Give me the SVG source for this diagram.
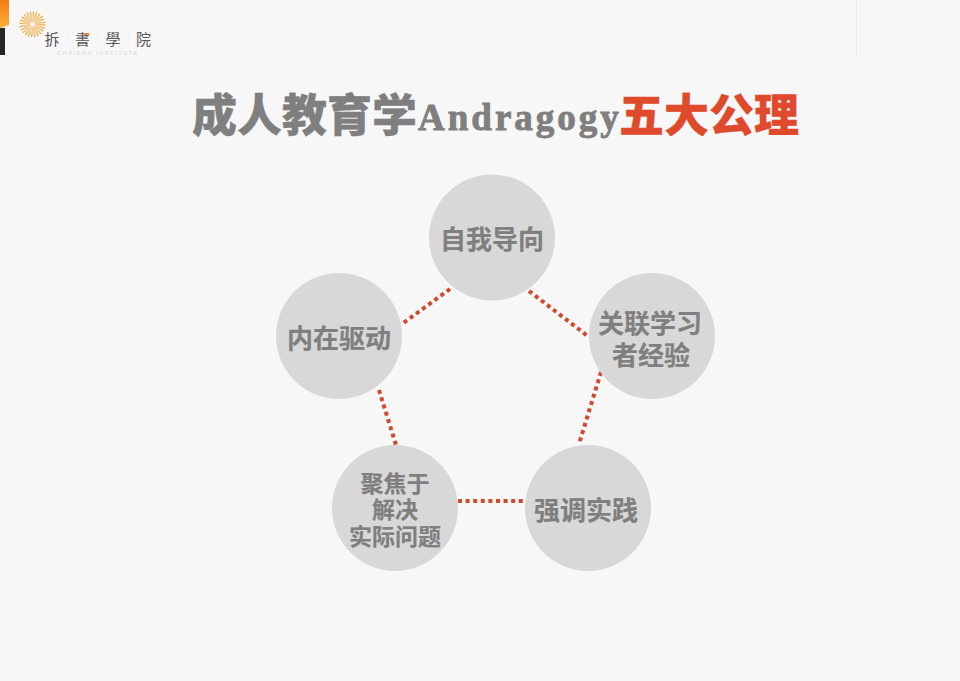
<svg xmlns="http://www.w3.org/2000/svg" width="960" height="681" viewBox="0 0 960 681">
<defs>
<linearGradient id="tab" x1="0" y1="0" x2="0" y2="1"><stop offset="0" stop-color="#f47a16"/><stop offset="1" stop-color="#fbb03b"/></linearGradient>
</defs>
<style>
.n{fill:#d8d8d8}
.t{font-family:"Noto Sans CJK SC","Noto Sans",sans-serif;font-weight:700;fill:#7f7f7f;text-anchor:middle;stroke:#7f7f7f;stroke-width:.2}
.c{stroke:#d2492f;stroke-width:4;stroke-dasharray:4 3.6;fill:none}
.h{font-family:"Noto Sans CJK SC","Noto Sans",sans-serif;font-weight:900;font-size:45px;stroke-width:.3}
.l{font-family:"Noto Sans CJK TC",sans-serif;font-size:15px;fill:#595959;text-anchor:middle}
.r{stroke:#f6b04e;fill:none}
</style>
<rect width="960" height="681" fill="#f7f7f7"/>
<g id="header">
<polygon points="0,0 9,0 9,25 0,28" fill="url(#tab)"/>
<rect x="0" y="28" width="5" height="27" fill="#262626"/>
<rect x="856" y="0" width="1" height="56" fill="#ebebeb"/>
<g id="logo" class="r">
<circle cx="32.500" cy="24.300" r="7.500" stroke-width="11" stroke-dasharray=".9 1.062"/>
<circle cx="32.500" cy="24.300" r="7" stroke-width="7.500" stroke-dasharray=".5 1.333" opacity=".7"/>
</g>
<rect x="67" y="34" width="1" height="14" fill="#f2f2f2"/>
<rect x="97" y="34" width="1" height="14" fill="#f2f2f2"/>
<rect x="128" y="34" width="1" height="14" fill="#f2f2f2"/>
<text class="l" x="52" y="45">拆</text>
<text class="l" x="82.500" y="45">書</text>
<text class="l" x="113" y="45">學</text>
<text class="l" x="143.500" y="45">院</text>
<rect x="84" y="33" width="5" height="2" fill="#f08a3c"/>
<text x="98" y="55" font-family="Liberation Sans,sans-serif" font-size="5.500px" letter-spacing="1.600" fill="#d4d4d4" text-anchor="middle">CHAISHU INSTITUTE</text>
</g>
<g id="title">
<text class="h" x="192" y="132" fill="#7f7f7f" stroke="#7f7f7f">成人教育学</text>
<text x="418" y="130" font-family="Liberation Serif,serif" font-weight="700" font-size="37px" letter-spacing="3" fill="#7f7f7f" stroke="#7f7f7f" stroke-width=".9">Andragogy</text>
<text class="h" x="619" y="132" fill="#e04a2c" stroke="#e04a2c">五大公理</text>
</g>
<g id="connectors">
<path class="c" d="M450 289L402 324"/>
<path class="c" d="M529 291L589 337"/>
<path class="c" d="M601 372L579 444"/>
<path class="c" d="M379 390L396 445"/>
<path class="c" d="M458 501H524"/>
</g>
<g id="node1"><circle class="n" cx="492" cy="237.500" r="63"/><text class="t" x="492" y="249" font-size="26px">自我导向</text></g>
<g id="node2"><circle class="n" cx="652" cy="336" r="63"/><text class="t" x="650" y="333" font-size="26px">关联学习</text><text class="t" x="651" y="365" font-size="26px">者经验</text></g>
<g id="node3"><circle class="n" cx="588" cy="508" r="63"/><text class="t" x="586" y="520" font-size="26px">强调实践</text></g>
<g id="node4"><circle class="n" cx="395" cy="508" r="63"/><text class="t" x="395" y="492" font-size="23px">聚焦于</text><text class="t" x="395" y="518" font-size="23px">解决</text><text class="t" x="395" y="545" font-size="23px">实际问题</text></g>
<g id="node5"><circle class="n" cx="339" cy="336" r="63"/><text class="t" x="339" y="348" font-size="26px">内在驱动</text></g>
</svg>
